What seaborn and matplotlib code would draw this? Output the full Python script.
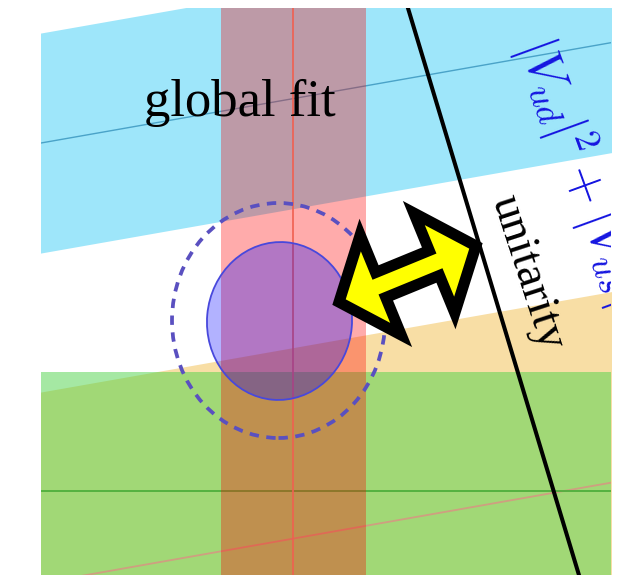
import numpy as np
import pandas as pd
import matplotlib
matplotlib.use("Agg")
import matplotlib.pyplot as plt
import seaborn as sns
from matplotlib.patches import Ellipse, Polygon

# ---------------- data (panel units, 1 unit = 1 pixel) ----------------
x_limits = [0, 570]
y_limits = [0, 567]

# sloped bands: intercept at left edge, slope, half width
blue_band_center = 432
blue_band_half = 110
orange_band_center = -8
orange_band_half = 191
band_slope = 0.176

# horizontal (green) band and vertical (red) band
green_band_center = 84
green_band_half = 119
red_band_center = 252
red_band_half = 72.5

# unitarity line
unitarity_x = [357, 547]
unitarity_y = [600, -30]

# global fit ellipses
fit_center = [238.5, 254]
fit_size = [145, 158]
fit_angle = -5
fit2_center = [237.5, 254.5]
fit2_size = [213, 235]

# double arrow
arrow_center = [366.5, 301]
arrow_angle = 22.3
arrow_length = 148
arrow_head_len = 45
arrow_head_half = 54
arrow_shaft_half = 13.5

# labels
label_fit = "global fit"
label_fit_pos = [199, 459]
label_unit = "unitarity"
label_unit_pos = [486, 302]
label_sum = r"$|V_{ud}|^2+|V_{us}|^2$"
label_sum_pos = [477, 530]

# ---------------- figure ----------------
sns.set_theme(style="white")
plt.rcParams["mathtext.fontset"] = "cm"

fig = plt.figure(figsize=(6.35, 5.75), dpi=100)
ax = fig.add_axes([41 / 635, 0, 570 / 635, 567 / 575])
ax.set_xlim(*x_limits)
ax.set_ylim(*y_limits)
ax.axis("off")

xs = np.linspace(x_limits[0] - 20, x_limits[1] + 20, 60)

# blue band
bc = blue_band_center + band_slope * xs
ax.fill_between(xs, bc - blue_band_half, bc + blue_band_half,
                color="#9ee6fa", lw=0, zorder=1)
# orange band
oc = orange_band_center + band_slope * xs
ax.fill_between(xs, oc - orange_band_half, oc + orange_band_half,
                color="#f8dea5", lw=0, zorder=1)
# green band
ax.axhspan(green_band_center - green_band_half, green_band_center + green_band_half,
           color="#4cd348", alpha=0.5, lw=0, zorder=2)

# center lines
sns.lineplot(x=xs, y=bc, ax=ax, color="#4aa3c8", lw=1.0, zorder=3,
             sort=False, estimator=None)
sns.lineplot(x=xs, y=oc, ax=ax, color="#cf9f80", lw=1.3, zorder=3,
             sort=False, estimator=None)
sns.lineplot(x=[xs[0], xs[-1]], y=[green_band_center] * 2, ax=ax,
             color="#4fae3c", lw=1.3, zorder=3, sort=False, estimator=None)

# red vertical band
ax.axvspan(red_band_center - red_band_half, red_band_center + red_band_half,
           color="#ff0000", alpha=0.33, lw=0, zorder=4)
sns.lineplot(x=[red_band_center] * 2, y=[y_limits[0] - 20, y_limits[1] + 20], ax=ax,
             color="#f06050", lw=1.2, zorder=5, sort=False, estimator=None)

# global fit ellipses
ax.add_patch(Ellipse(fit_center, fit_size[0], fit_size[1], angle=fit_angle,
                     facecolor=(0, 0, 1, 0.3), edgecolor="#4848dc", lw=1.3, zorder=6))
ax.add_patch(Ellipse(fit2_center, fit2_size[0], fit2_size[1],
                     facecolor="none", edgecolor="#5a50c0", lw=2.7,
                     linestyle=(0, (2.5, 2.0)), zorder=6))

# double arrow
L = arrow_length / 2
hl, hh, sh = arrow_head_len, arrow_head_half, arrow_shaft_half
local = np.array([(-L, 0), (-L + hl, hh), (-L + hl, sh), (L - hl, sh), (L - hl, hh),
                  (L, 0), (L - hl, -hh), (L - hl, -sh), (-L + hl, -sh), (-L + hl, -hh)])
th = np.deg2rad(arrow_angle)
rot = np.array([[np.cos(th), -np.sin(th)], [np.sin(th), np.cos(th)]])
verts = local @ rot.T + np.array(arrow_center)
ax.add_patch(Polygon(verts, closed=True, facecolor="#ffff00", edgecolor="black",
                     lw=8.0, joinstyle="miter", zorder=7))

# unitarity line
sns.lineplot(x=unitarity_x, y=unitarity_y, ax=ax, color="black", lw=2.9, zorder=8,
             sort=False, estimator=None)

# texts
ax.text(label_fit_pos[0], label_fit_pos[1], label_fit, ha="center", va="baseline",
        fontsize=38, family="Liberation Serif", color="black", zorder=9)
ax.text(label_unit_pos[0], label_unit_pos[1], label_unit, ha="center", va="center",
        rotation=-72, rotation_mode="anchor", fontsize=34,
        family="Liberation Serif", color="black", zorder=9)
ax.text(label_sum_pos[0], label_sum_pos[1], label_sum, ha="left", va="baseline",
        rotation=-70, rotation_mode="anchor", fontsize=37, color="#1515e0",
        zorder=9, clip_on=True)

fig.savefig("out.png", dpi=100)
